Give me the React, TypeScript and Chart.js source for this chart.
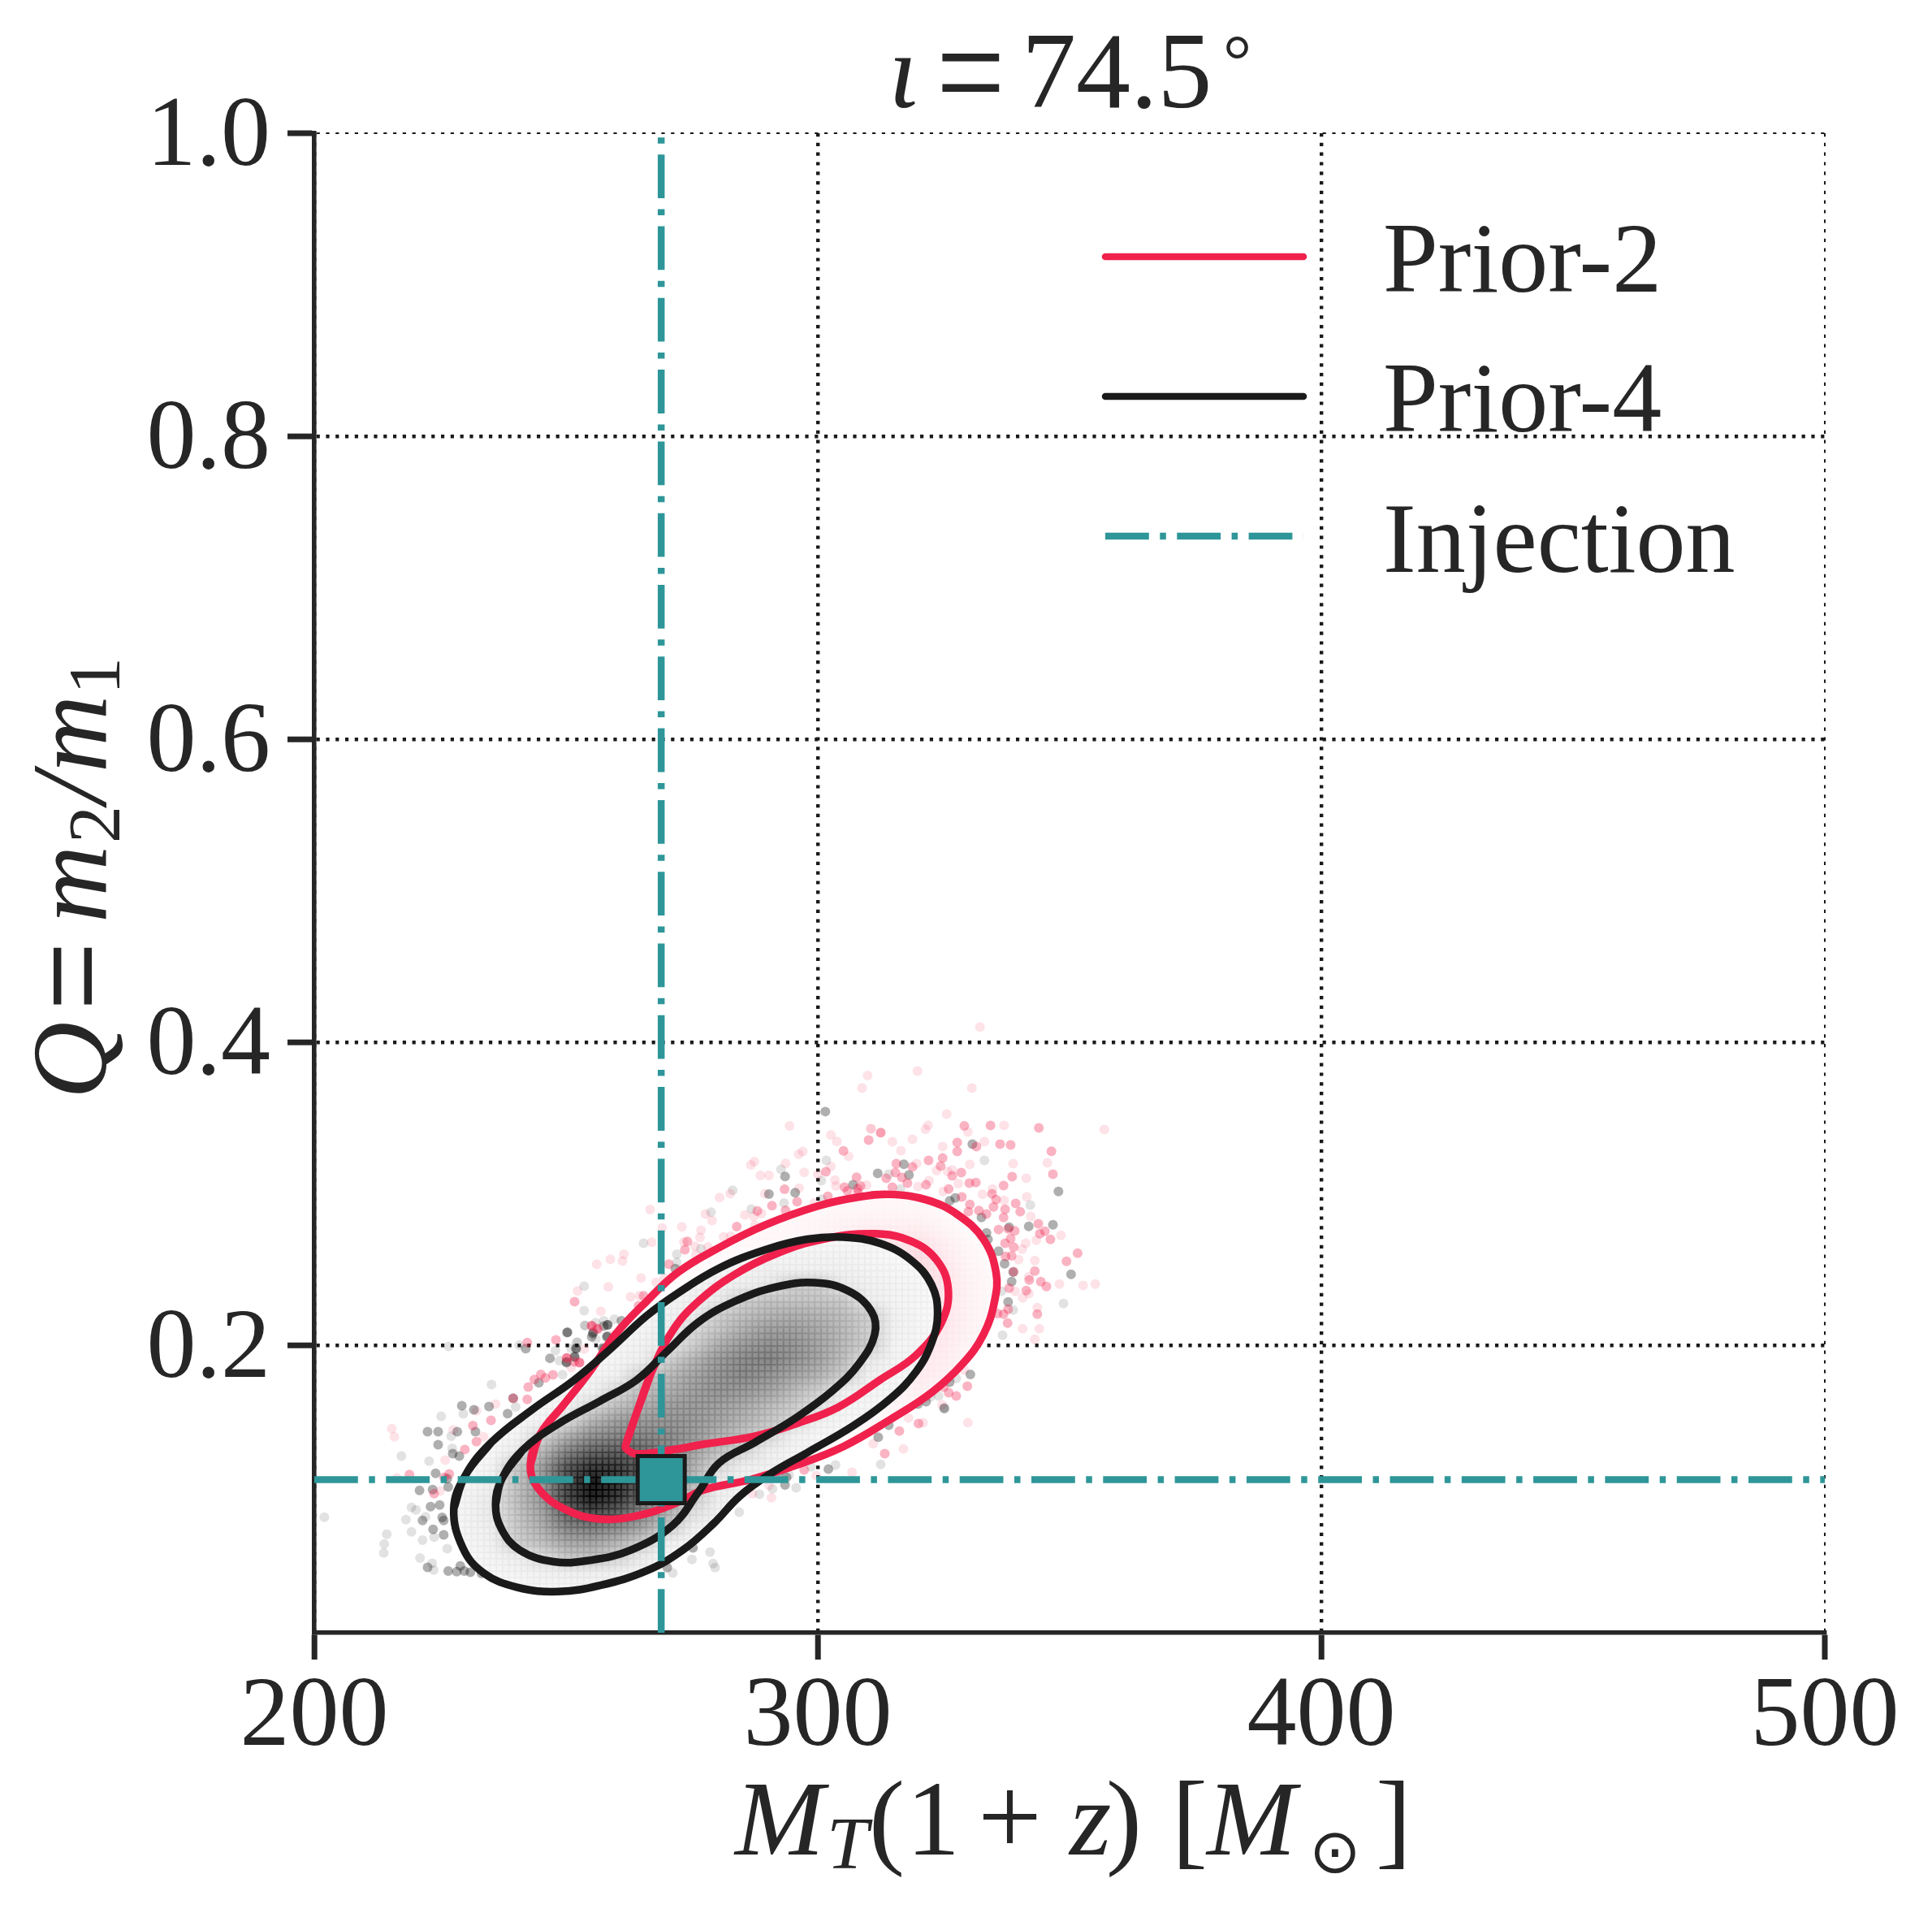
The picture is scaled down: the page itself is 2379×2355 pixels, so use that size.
import { useEffect, useRef } from "react"
import { Chart, registerables } from "chart.js"

Chart.register(...registerables)

const xTicks = [200, 300, 400, 500]
const yTicks = [0.2, 0.4, 0.6, 0.8, 1.0]
const legendLabels = ["Prior-2", "Prior-4", "Injection"]
const injection = { mass: 268.9, q: 0.1111 }

const RED = "#f0214c"
const BLACK = "#1a1a1a"
const TEAL = "#2e9699"
const INK = "#262626"
const SERIF = '"Liberation Serif"'

// contours as [M, Q]
const blackOuter = [
  [227.7, 0.092], [230.0, 0.1139], [235.2, 0.1358], [243.4, 0.1576], [251.6, 0.1768], [258.8, 0.1973],
  [266.0, 0.2192], [272.2, 0.2342], [280.4, 0.2507], [289.7, 0.263], [297.9, 0.2698], [305.1, 0.2712],
  [312.3, 0.2671], [318.5, 0.2561], [322.6, 0.2397], [323.8, 0.2206], [322.6, 0.2014], [319.5, 0.1823],
  [314.4, 0.1645], [307.1, 0.1467], [297.9, 0.1289], [290.7, 0.1152], [284.5, 0.1002], [279.4, 0.0824],
  [273.2, 0.0646], [266.0, 0.0509], [256.8, 0.0413], [248.5, 0.0372], [240.3, 0.04], [233.6, 0.0495],
  [229.5, 0.066],
]
const blackInner = [
  [236.0, 0.0947], [237.2, 0.1111], [241.3, 0.1303], [248.5, 0.148], [256.8, 0.1631], [264.0, 0.1768],
  [270.1, 0.1959], [276.3, 0.2151], [283.5, 0.2288], [291.7, 0.2383], [299.4, 0.2411], [306.1, 0.2356],
  [310.7, 0.2219], [311.3, 0.2069], [308.2, 0.1877], [303.0, 0.17], [295.8, 0.1522], [287.6, 0.1358],
  [280.4, 0.1221], [276.3, 0.1029], [271.2, 0.081], [262.9, 0.0646], [254.7, 0.0578], [247.5, 0.0569],
  [240.8, 0.0646], [237.2, 0.0783],
]
const redOuter = [
  [242.9, 0.1207], [244.9, 0.1412], [249.5, 0.1604], [254.7, 0.1823], [259.8, 0.2069], [266.0, 0.2288],
  [272.2, 0.2479], [280.4, 0.2643], [289.7, 0.2794], [300.0, 0.2917], [308.2, 0.2977], [314.4, 0.2994],
  [321.6, 0.2958], [327.7, 0.2862], [332.9, 0.2698], [335.4, 0.2479], [335.1, 0.2288], [332.9, 0.2069],
  [328.8, 0.1877], [322.6, 0.1686], [314.4, 0.1508], [305.1, 0.133], [295.8, 0.1207], [286.6, 0.1111],
  [277.3, 0.1043], [272.2, 0.0961], [265.0, 0.0879], [256.7, 0.0851], [249.5, 0.092], [244.4, 0.1056],
]
const redInner = [
  [261.9, 0.1344], [264.0, 0.1549], [267.0, 0.1823], [271.2, 0.2096], [276.3, 0.2288], [283.5, 0.2465],
  [291.7, 0.2602], [301.0, 0.2698], [311.3, 0.2734], [318.5, 0.2685], [323.6, 0.2561], [325.9, 0.237],
  [324.6, 0.2151], [319.5, 0.1932], [312.3, 0.1768], [304.1, 0.159], [295.8, 0.1481], [287.6, 0.1399],
  [277.3, 0.1344], [271.1, 0.1308], [264.0, 0.1281], [261.9, 0.1316],
]

// scattered samples outside the contours
const greyPale = [
  [226.7, 0.1991], [240.7, 0.1998], [202.0, 0.0863], [214.4, 0.075], [213.9, 0.0686], [213.8, 0.0627], [221.0, 0.0594],
  [223.4, 0.0558], [223.7, 0.0514], [217.3, 0.1266], [225.2, 0.1529], [229.6, 0.1545], [222.8, 0.1233], [227.4, 0.1317],
  [227.2, 0.1398], [219.3, 0.0927], [220.2, 0.0911], [219.3, 0.0766], [221.5, 0.0712], [223.8, 0.0732], [226.4, 0.0655],
  [218.2, 0.0847], [222.1, 0.0865], [235.2, 0.1738], [249.3, 0.1804], [248.7, 0.1896], [247.9, 0.1962], [252.3, 0.2017],
  [253.7, 0.2128], [257.5, 0.2159], [255.9, 0.2039], [240.0, 0.1591], [301.7, 0.3219], [292.7, 0.316], [293.3, 0.2937],
  [286.8, 0.2897], [283.1, 0.3021], [278.8, 0.2876], [276.8, 0.2635], [272.0, 0.2599], [272.0, 0.2545], [265.4, 0.2672],
  [253.6, 0.2388], [253.6, 0.2227], [253.8, 0.2129], [255.9, 0.2147], [259.6, 0.217], [252.1, 0.2018], [251.0, 0.1977],
  [300.7, 0.3085], [333.1, 0.3218], [314.1, 0.3127], [316.4, 0.303], [300.8, 0.2962], [342.2, 0.2923], [348.8, 0.2273],
  [338.8, 0.223], [336.7, 0.2064], [336.5, 0.2354], [284.4, 0.0897], [278.6, 0.0632], [275.0, 0.0584], [279.2, 0.0557],
  [279.6, 0.053], [271.2, 0.0494], [312.5, 0.1212], [303.5, 0.1207], [298.7, 0.1196], [295.7, 0.1057], [291.0, 0.1051],
  [288.4, 0.1014], [324.0, 0.1663], [322.4, 0.1658], [327.5, 0.178], [325.2, 0.1577], [294.3, 0.1142],
]
const greyDark = [
  [242.0, 0.1976], [250.2, 0.2082], [246.8, 0.1912], [250.1, 0.1883], [251.7, 0.1923], [252.0, 0.1976], [244.6, 0.1751],
  [239.5, 0.1649], [234.7, 0.1593], [231.7, 0.1572], [229.3, 0.1599], [238.4, 0.1547], [222.5, 0.1427], [224.6, 0.1427],
  [228.4, 0.1427], [232.0, 0.1427], [224.6, 0.1341], [227.5, 0.1283], [228.8, 0.1266], [224.1, 0.1153], [223.5, 0.1045],
  [220.9, 0.104], [223.1, 0.0933], [224.9, 0.0943], [225.4, 0.0861], [225.7, 0.0841], [221.5, 0.0841], [223.6, 0.0782],
  [225.7, 0.0746], [222.5, 0.0532], [226.6, 0.0508], [228.3, 0.0503], [229.8, 0.0507], [231.0, 0.0499], [229.0, 0.0541],
  [255.3, 0.2075], [258.2, 0.2057], [258.2, 0.2132], [261.0, 0.2159], [257.5, 0.1976], [226.4, 0.1117], [226.6, 0.1063],
  [233.2, 0.0491], [311.9, 0.3133], [293.5, 0.3112], [295.5, 0.3005], [307.0, 0.3058], [290.3, 0.2996], [271.7, 0.2504],
  [258.3, 0.2132], [257.5, 0.2125], [255.4, 0.2084], [255.1, 0.2054], [258.1, 0.2054], [250.3, 0.2084], [252.0, 0.1977],
  [257.2, 0.198], [251.7, 0.1919], [250.1, 0.1888], [301.5, 0.3541], [330.7, 0.3326], [317.1, 0.3193], [318.1, 0.3122],
  [347.8, 0.3014], [327.3, 0.2971], [326.2, 0.2952], [332.5, 0.2842], [341.9, 0.2783], [346.7, 0.2794], [333.5, 0.274],
  [333.8, 0.2697], [335.9, 0.2619], [337.1, 0.2536], [338.8, 0.2481], [338.5, 0.2418], [350.3, 0.2467], [337.8, 0.2284],
  [338.0, 0.2778], [302.1, 0.118], [312.0, 0.1391], [314.1, 0.147], [293.5, 0.1076], [293.8, 0.1126], [292.4, 0.1162],
  [321.5, 0.1626], [319.9, 0.161], [326.2, 0.1755], [330.3, 0.1805], [325.1, 0.1583], [270.1, 0.053], [275.2, 0.0661],
]
const pinkPale = [
  [215.4, 0.1448], [215.9, 0.1394], [226.0, 0.1239], [227.6, 0.1439], [236.0, 0.1609], [232.2, 0.1565], [233.6, 0.1394],
  [216.4, 0.1122], [253.6, 0.1973], [251.0, 0.1851], [259.4, 0.2066], [225.0, 0.1036], [294.4, 0.3446], [302.6, 0.3386],
  [303.8, 0.3343], [310.6, 0.3428], [312.5, 0.3403], [306.1, 0.3246], [296.2, 0.3259], [297.0, 0.3278], [286.7, 0.3189],
  [287.4, 0.321], [293.6, 0.3198], [288.6, 0.3119], [290.3, 0.3119], [297.3, 0.3139], [302.6, 0.3178], [300.0, 0.3126],
  [303.4, 0.3089], [303.6, 0.3049], [296.3, 0.3035], [289.5, 0.2999], [299.3, 0.2937], [280.5, 0.2973], [282.6, 0.2999],
  [266.7, 0.2894], [277.7, 0.2865], [279.0, 0.2822], [273.0, 0.278], [276.8, 0.2758], [269.1, 0.2772], [267.0, 0.2678],
  [273.4, 0.2679], [275.6, 0.2651], [276.6, 0.271], [278.2, 0.2647], [275.8, 0.2597], [281.3, 0.2713], [282.7, 0.2719],
  [285.5, 0.2858], [287.3, 0.2849], [288.8, 0.2867], [287.5, 0.279], [256.1, 0.2533], [258.8, 0.2565], [261.2, 0.2554],
  [261.5, 0.2599], [264.9, 0.2442], [269.5, 0.2442], [267.9, 0.2413], [258.4, 0.2383], [252.3, 0.2356], [262.8, 0.2318],
  [256.9, 0.2222], [264.6, 0.2325], [332.2, 0.4099], [319.8, 0.3809], [309.9, 0.3779], [308.8, 0.3696], [330.6, 0.3696],
  [325.6, 0.3524], [321.9, 0.3451], [321.4, 0.3424], [310.5, 0.3428], [329.8, 0.3406], [337.0, 0.3449], [314.8, 0.3342],
  [318.8, 0.3358], [333.1, 0.3342], [324.8, 0.331], [316.5, 0.3283], [356.9, 0.3422], [338.8, 0.3197], [330.2, 0.3192],
  [319.6, 0.3197], [345.6, 0.3202], [323.6, 0.3152], [325.8, 0.3145], [326.7, 0.3156], [341.4, 0.31], [309.7, 0.3055],
  [332.7, 0.2995], [324.9, 0.3014], [341.5, 0.2977], [334.7, 0.303], [337.0, 0.2955], [327.9, 0.3066], [322.1, 0.3084],
  [319.9, 0.3045], [342.3, 0.2848], [341.3, 0.2671], [343.4, 0.2692], [340.6, 0.2633], [348.3, 0.2724], [339.9, 0.2563],
  [343.1, 0.2558], [352.7, 0.2393], [355.1, 0.2402], [348.0, 0.2402], [341.9, 0.245], [340.7, 0.2311], [343.6, 0.2246],
  [340.7, 0.2107], [344.0, 0.2107], [339.2, 0.2354], [341.9, 0.2339], [343.1, 0.2037], [306.8, 0.1159], [299.7, 0.1137],
  [290.8, 0.0992], [287.0, 0.1019], [290.3, 0.1073], [311.0, 0.1348], [317.0, 0.1314], [318.0, 0.1518], [320.9, 0.1486],
  [324.7, 0.1604], [329.8, 0.1488], [329.1, 0.1833],
]
const pinkDark = [
  [248.0, 0.2033], [242.3, 0.2016], [250.2, 0.1914], [252.6, 0.1883], [247.4, 0.1803], [245.9, 0.1783], [245.0, 0.1806],
  [243.7, 0.1772], [242.5, 0.1722], [242.3, 0.1641], [239.5, 0.1647], [235.1, 0.1502], [231.5, 0.1468], [232.2, 0.1362],
  [229.9, 0.131], [218.9, 0.1144], [226.8, 0.1149], [225.8, 0.1126], [223.8, 0.1019], [255.1, 0.2128], [256.3, 0.2105],
  [310.1, 0.3353], [305.1, 0.3282], [301.6, 0.3144], [307.7, 0.3107], [293.4, 0.3028], [295.9, 0.2946], [302.0, 0.2981],
  [290.9, 0.2919], [305.3, 0.3042], [305.9, 0.3017], [308.5, 0.3049], [307.9, 0.3032], [308.0, 0.3005], [288.0, 0.2885],
  [293.6, 0.2889], [283.9, 0.2781], [273.6, 0.2629], [274.1, 0.2683], [270.4, 0.2533], [265.4, 0.2324], [264.4, 0.2259],
  [251.7, 0.2286], [255.1, 0.2125], [256.2, 0.2109], [250.1, 0.1914], [251.6, 0.1888], [252.7, 0.1884], [312.5, 0.3401],
  [329.1, 0.3446], [334.3, 0.3449], [336.2, 0.3326], [338.3, 0.332], [343.9, 0.3433], [327.7, 0.3336], [327.7, 0.3277],
  [331.5, 0.331], [346.4, 0.3279], [322.0, 0.3218], [324.8, 0.3234], [324.4, 0.3181], [315.6, 0.3197], [318.8, 0.3175],
  [328.5, 0.3138], [326.7, 0.3116], [315.4, 0.3138], [313.6, 0.31], [316.7, 0.3106], [346.7, 0.3127], [338.6, 0.3111],
  [330.1, 0.3068], [331.4, 0.3073], [317.8, 0.3068], [321.5, 0.3057], [314.8, 0.3041], [336.9, 0.3052], [334.6, 0.2998],
  [335.4, 0.296], [328.6, 0.2977], [326.0, 0.303], [339.3, 0.2934], [340.2, 0.288], [334.9, 0.2912], [337.2, 0.2896],
  [330.2, 0.2928], [329.9, 0.288], [332.0, 0.2887], [333.5, 0.2864], [336.9, 0.2842], [343.8, 0.28], [345.1, 0.2751],
  [344.1, 0.2735], [346.2, 0.2697], [335.9, 0.2762], [337.8, 0.2767], [339.1, 0.2753], [338.3, 0.2703], [337.2, 0.2671],
  [338.9, 0.2646], [337.3, 0.2585], [338.5, 0.2588], [351.6, 0.2606], [349.4, 0.2552], [343.1, 0.2488], [344.3, 0.2418],
  [345.4, 0.2386], [342.0, 0.2429], [341.4, 0.2359], [338.0, 0.2375], [338.9, 0.2484], [337.7, 0.2144], [343.6, 0.2203],
  [335.7, 0.2207], [336.9, 0.2203], [337.8, 0.2236], [297.3, 0.1175], [313.3, 0.1282], [316.2, 0.1432], [320.0, 0.1481],
  [329.7, 0.1728], [327.5, 0.1663], [326.0, 0.1685], [325.0, 0.1722],
]

// darkness of the 2D histogram in percent, 0 = nothing painted
const greyCols = [225, 230, 235, 240, 245, 250, 255, 260, 265, 270, 275, 280, 285, 290, 295, 300, 305, 310, 315, 320, 325, 330]
const greyRows = [0.03, 0.04, 0.05, 0.06, 0.07, 0.08, 0.09, 0.1, 0.11, 0.12, 0.13, 0.14, 0.15, 0.16, 0.17, 0.18, 0.19, 0.2, 0.21, 0.22, 0.23, 0.24, 0.25, 0.26, 0.27, 0.28]
const greyShade = [
  [0, 0, 0, 2, 2, 2, 2, 2, 0, 0, 0, 0, 0, 0, 0, 0, 0, 0, 0, 0, 0, 0],
  [0, 0, 2, 2, 3, 3, 3, 3, 2, 0, 0, 0, 0, 0, 0, 0, 0, 0, 0, 0, 0, 0],
  [2, 2, 3, 4, 5, 6, 6, 5, 3, 2, 0, 0, 0, 0, 0, 0, 0, 0, 0, 0, 0, 0],
  [2, 2, 4, 6, 12, 20, 22, 16, 7, 3, 2, 0, 0, 0, 0, 0, 0, 0, 0, 0, 0, 0],
  [2, 3, 5, 18, 24, 33, 34, 28, 18, 6, 3, 2, 0, 0, 0, 0, 0, 0, 0, 0, 0, 0],
  [2, 4, 6, 20, 30, 46, 50, 44, 34, 20, 6, 3, 2, 0, 0, 0, 0, 0, 0, 0, 0, 0],
  [2, 4, 8, 22, 34, 58, 68, 60, 45, 30, 12, 5, 2, 2, 0, 0, 0, 0, 0, 0, 0, 0],
  [2, 4, 7, 24, 38, 68, 85, 75, 55, 38, 20, 6, 3, 2, 0, 0, 0, 0, 0, 0, 0, 0],
  [2, 3, 6, 22, 38, 68, 88, 78, 60, 42, 26, 7, 5, 3, 2, 0, 0, 0, 0, 0, 0, 0],
  [2, 2, 4, 20, 36, 62, 74, 72, 60, 46, 30, 14, 6, 5, 3, 2, 0, 0, 0, 0, 0, 0],
  [0, 2, 3, 7, 26, 46, 58, 60, 56, 46, 34, 24, 15, 6, 4, 3, 2, 0, 0, 0, 0, 0],
  [0, 2, 2, 4, 14, 30, 42, 46, 46, 44, 38, 30, 22, 15, 5, 3, 3, 2, 0, 0, 0, 0],
  [0, 0, 2, 3, 4, 12, 28, 36, 38, 40, 38, 34, 28, 22, 14, 5, 3, 3, 2, 0, 0, 0],
  [0, 0, 0, 2, 3, 4, 14, 24, 30, 36, 38, 36, 32, 26, 20, 10, 4, 3, 2, 2, 0, 0],
  [0, 0, 0, 0, 2, 3, 5, 14, 24, 30, 36, 40, 38, 34, 26, 18, 5, 4, 3, 2, 2, 0],
  [0, 0, 0, 0, 2, 2, 4, 5, 18, 26, 34, 40, 44, 40, 34, 28, 18, 5, 3, 2, 2, 0],
  [0, 0, 0, 0, 0, 2, 2, 4, 6, 18, 28, 38, 44, 46, 40, 34, 24, 8, 4, 3, 2, 0],
  [0, 0, 0, 0, 0, 0, 2, 3, 5, 7, 18, 30, 38, 42, 40, 34, 26, 18, 4, 3, 2, 0],
  [0, 0, 0, 0, 0, 0, 2, 2, 4, 6, 14, 22, 30, 36, 36, 32, 26, 18, 5, 3, 2, 0],
  [0, 0, 0, 0, 0, 0, 0, 2, 3, 5, 6, 18, 24, 28, 30, 28, 24, 18, 5, 3, 2, 0],
  [0, 0, 0, 0, 0, 0, 0, 0, 2, 3, 5, 7, 18, 22, 22, 22, 20, 6, 4, 3, 2, 0],
  [0, 0, 0, 0, 0, 0, 0, 0, 0, 2, 4, 5, 6, 8, 18, 18, 7, 5, 4, 3, 2, 0],
  [0, 0, 0, 0, 0, 0, 0, 0, 0, 2, 2, 3, 4, 5, 5, 5, 5, 4, 3, 2, 2, 0],
  [0, 0, 0, 0, 0, 0, 0, 0, 0, 0, 2, 2, 2, 3, 4, 4, 4, 3, 2, 2, 0, 0],
  [0, 0, 0, 0, 0, 0, 0, 0, 0, 0, 0, 0, 2, 2, 2, 2, 2, 2, 2, 0, 0, 0],
  [0, 0, 0, 0, 0, 0, 0, 0, 0, 0, 0, 0, 0, 0, 0, 0, 0, 0, 0, 0, 0, 0],
]

// faint pink tint of the other histogram, showing only past the grey one
const pinkCols = [240, 245, 250, 255, 260, 265, 270, 275, 280, 285, 290, 295, 300, 305, 310, 315, 320, 325, 330, 335, 340]
const pinkRows = [0.08, 0.09, 0.1, 0.11, 0.12, 0.13, 0.14, 0.15, 0.16, 0.17, 0.18, 0.19, 0.2, 0.21, 0.22, 0.23, 0.24, 0.25, 0.26, 0.27, 0.28, 0.29, 0.3, 0.31]
const pinkShade = [
  [1, 1, 1, 1, 1, 1, 1, 1, 1, 0, 0, 0, 0, 0, 0, 0, 0, 0, 0, 0, 0],
  [1, 1, 1, 1, 1, 1, 1, 1, 1, 1, 1, 0, 0, 0, 0, 0, 0, 0, 0, 0, 0],
  [1, 1, 1, 1, 1, 1, 1, 1, 1, 1, 1, 1, 0, 0, 0, 0, 0, 0, 0, 0, 0],
  [1, 1, 1, 1, 1, 1, 1, 1, 1, 1, 1, 1, 1, 1, 0, 0, 0, 0, 0, 0, 0],
  [1, 1, 1, 1, 1, 1, 1, 1, 1, 1, 1, 1, 2, 2, 1, 1, 0, 0, 0, 0, 0],
  [1, 1, 1, 1, 1, 1, 1, 1, 1, 1, 1, 2, 2, 2, 2, 2, 1, 0, 0, 0, 0],
  [1, 1, 1, 1, 1, 1, 1, 1, 1, 1, 1, 2, 2, 2, 2, 2, 2, 1, 0, 0, 0],
  [1, 1, 1, 1, 1, 1, 1, 1, 1, 1, 1, 2, 2, 2, 3, 3, 3, 2, 1, 0, 0],
  [0, 1, 1, 1, 1, 1, 1, 1, 1, 1, 1, 2, 2, 2, 2, 4, 4, 3, 1, 0, 0],
  [0, 0, 1, 1, 1, 1, 1, 1, 1, 1, 1, 2, 2, 2, 2, 4, 6, 3, 2, 1, 0],
  [0, 0, 0, 1, 1, 1, 1, 1, 1, 1, 1, 2, 2, 2, 2, 3, 8, 6, 3, 1, 0],
  [0, 0, 0, 1, 1, 1, 1, 1, 1, 1, 1, 2, 2, 2, 2, 3, 9, 7, 3, 1, 0],
  [0, 0, 0, 0, 1, 1, 1, 1, 1, 1, 1, 2, 2, 2, 2, 3, 10, 8, 4, 2, 0],
  [0, 0, 0, 0, 1, 1, 1, 1, 1, 1, 1, 2, 2, 2, 2, 3, 10, 9, 5, 2, 0],
  [0, 0, 0, 0, 0, 1, 1, 1, 1, 1, 1, 2, 2, 2, 2, 3, 12, 10, 5, 2, 0],
  [0, 0, 0, 0, 0, 1, 1, 1, 1, 1, 1, 2, 2, 2, 2, 4, 12, 10, 5, 2, 0],
  [0, 0, 0, 0, 0, 0, 1, 1, 2, 2, 2, 2, 2, 2, 2, 5, 14, 10, 5, 2, 0],
  [0, 0, 0, 0, 0, 0, 1, 2, 2, 2, 2, 2, 2, 2, 3, 8, 14, 10, 4, 2, 0],
  [0, 0, 0, 0, 0, 0, 0, 1, 2, 2, 2, 2, 2, 3, 5, 10, 14, 8, 3, 1, 0],
  [0, 0, 0, 0, 0, 0, 0, 0, 1, 2, 3, 3, 4, 7, 10, 10, 10, 6, 2, 1, 0],
  [0, 0, 0, 0, 0, 0, 0, 0, 0, 1, 2, 3, 4, 5, 6, 6, 6, 3, 1, 0, 0],
  [0, 0, 0, 0, 0, 0, 0, 0, 0, 0, 1, 2, 2, 3, 3, 3, 3, 2, 1, 0, 0],
  [0, 0, 0, 0, 0, 0, 0, 0, 0, 0, 0, 1, 1, 1, 2, 2, 2, 1, 0, 0, 0],
  [0, 0, 0, 0, 0, 0, 0, 0, 0, 0, 0, 0, 0, 0, 0, 0, 0, 0, 0, 0, 0],
]

const toPoints = (pairs: number[][]) => pairs.map(([x, y]) => ({ x, y }))
// run over the first points again so the smoothing closes without a kink
const closed = (pairs: number[][]) => toPoints([...pairs, pairs[0], pairs[1], pairs[2]])

function shadeImage(rows: number[], cols: number[], shade: number[][], tint: number[], gain: number, lift: number) {
  const small = document.createElement("canvas")
  small.width = cols.length
  small.height = rows.length
  const sctx = small.getContext("2d")!
  const img = sctx.createImageData(cols.length, rows.length)
  shade.forEach((row, r) => {
    row.forEach((v, c) => {
      const i = ((rows.length - 1 - r) * cols.length + c) * 4
      const k = Math.min(1, (v * gain + lift) / 100)
      img.data[i] = 255 + (tint[0] - 255) * k
      img.data[i + 1] = 255 + (tint[1] - 255) * k
      img.data[i + 2] = 255 + (tint[2] - 255) * k
      img.data[i + 3] = v === 0 ? 0 : 255
    })
  })
  sctx.putImageData(img, 0, 0)
  return small
}

function paintHistogram(
  chart: any,
  cols: number[],
  rows: number[],
  shade: number[][],
  tint: number[],
  outline: number[][],
  gain: number,
  lift: number,
) {
  const { x, y } = chart.scales
  const ctx = chart.ctx as CanvasRenderingContext2D
  const dx = x.getPixelForValue(cols[1]) - x.getPixelForValue(cols[0])
  const dy = y.getPixelForValue(rows[0]) - y.getPixelForValue(rows[1])
  const left = x.getPixelForValue(cols[0]) - dx / 2
  const top = y.getPixelForValue(rows[rows.length - 1]) - dy / 2

  // seams between the histogram bins: the same picture a little darker, seen through thin lines
  const seams = document.createElement("canvas")
  seams.width = chart.width
  seams.height = chart.height
  const mctx = seams.getContext("2d")!
  mctx.strokeStyle = "#000"
  mctx.lineWidth = 2
  mctx.beginPath()
  for (let m = cols[0]; m <= cols[cols.length - 1]; m += 1.24) {
    const px = x.getPixelForValue(m)
    mctx.moveTo(px, top)
    mctx.lineTo(px, top + dy * rows.length)
  }
  for (let q = rows[0]; q <= rows[rows.length - 1]; q += 0.00413) {
    const py = y.getPixelForValue(q)
    mctx.moveTo(left, py)
    mctx.lineTo(left + dx * cols.length, py)
  }
  mctx.stroke()
  mctx.globalCompositeOperation = "source-in"
  mctx.drawImage(shadeImage(rows, cols, shade, tint, gain, lift), left, top, dx * cols.length, dy * rows.length)

  // only the inside of the outer contour gets painted
  ctx.save()
  ctx.beginPath()
  outline.forEach(([m, q], i) => {
    if (i === 0) ctx.moveTo(x.getPixelForValue(m), y.getPixelForValue(q))
    else ctx.lineTo(x.getPixelForValue(m), y.getPixelForValue(q))
  })
  ctx.closePath()
  ctx.clip()
  ctx.fillStyle = "#fff"
  ctx.fillRect(0, 0, chart.width, chart.height)
  ctx.imageSmoothingEnabled = true
  ctx.drawImage(shadeImage(rows, cols, shade, tint, 1, 0), left, top, dx * cols.length, dy * rows.length)
  ctx.drawImage(seams, 0, 0)
  ctx.restore()
}

const histogramPlugin = {
  id: "histograms",
  beforeDatasetsDraw(chart: any) {
    paintHistogram(chart, pinkCols, pinkRows, pinkShade, [240, 33, 76], redOuter, 1.2, 0.6)
    paintHistogram(chart, greyCols, greyRows, greyShade, [0, 0, 0], blackOuter, 1.2, 2.5)
  },
}

const put = (ctx: CanvasRenderingContext2D, text: string, x: number, y: number, font: string) => {
  ctx.font = font
  ctx.fillText(text, x, y)
}

// the math "=" is wider apart than the text one
const putEquals = (ctx: CanvasRenderingContext2D, x: number, y: number) => {
  ctx.save()
  ctx.translate(x, y)
  ctx.scale(1.07, 1.35)
  put(ctx, "=", 0, 0, `140px ${SERIF}`)
  ctx.restore()
}

const textPlugin = {
  id: "texts",
  afterDraw(chart: any) {
    const ctx = chart.ctx as CanvasRenderingContext2D
    const reg = (s: number) => `${s}px ${SERIF}`
    const ita = (s: number) => `italic ${s}px ${SERIF}`
    ctx.save()
    ctx.fillStyle = INK
    ctx.textAlign = "left"
    ctx.textBaseline = "alphabetic"

    // title
    put(ctx, "ι", 1094, 132, ita(132))
    putEquals(ctx, 1153, 152)
    put(ctx, "74.5", 1258, 132, reg(134))
    put(ctx, "°", 1506, 104, reg(88))

    // x label
    put(ctx, "M", 905, 2283, ita(132))
    put(ctx, "T", 1018, 2300, ita(92))
    put(ctx, "(", 1070, 2283, reg(132))
    put(ctx, "1", 1116, 2283, reg(132))
    put(ctx, "+", 1204, 2283, reg(140))
    put(ctx, "z", 1317, 2283, ita(132))
    put(ctx, ")", 1362, 2283, reg(132))
    put(ctx, "[", 1443, 2283, reg(132))
    put(ctx, "M", 1486, 2283, ita(132))
    put(ctx, "⊙", 1612, 2305, '76px "DejaVu Sans"')
    put(ctx, "]", 1694, 2283, reg(132))

    // y label, rotated, distance measured up the page
    ctx.save()
    ctx.translate(130, 1353)
    ctx.rotate(-Math.PI / 2)
    put(ctx, "Q", 0, 0, ita(132))
    putEquals(ctx, 109, 22)
    put(ctx, "m", 217, 0, ita(132))
    put(ctx, "2", 315, 17, reg(92))
    put(ctx, "/", 364, 0, ita(132))
    put(ctx, "m", 402, 0, ita(132))
    put(ctx, "1", 498, 17, reg(92))
    ctx.restore()

    // legend
    const lineColors = [RED, BLACK, TEAL]
    const lineY = [316, 488, 660]
    const textY = [359, 531, 704]
    legendLabels.forEach((label, i) => {
      ctx.beginPath()
      ctx.strokeStyle = lineColors[i]
      ctx.lineWidth = 8.5
      ctx.lineCap = i === 2 ? "butt" : "round"
      ctx.setLineDash(i === 2 ? [53.8, 13.5, 7.5, 13.5] : [])
      ctx.moveTo(1361, lineY[i])
      ctx.lineTo(1605, lineY[i])
      ctx.stroke()
      ctx.setLineDash([])
      put(ctx, label, 1703, textY[i], reg(122))
    })
    ctx.restore()
  },
}

export default function App() {
  const chartRef = useRef<HTMLCanvasElement>(null)

  useEffect(() => {
    if (!chartRef.current) return
    const contour = (data: number[][], color: string) => ({
      data: closed(data),
      showLine: true,
      borderColor: color,
      borderWidth: 9.5,
      tension: 0.4,
      pointRadius: 0,
      fill: false,
    })
    const samples = (data: number[][], color: string) => ({
      data: toPoints(data),
      backgroundColor: color,
      borderWidth: 0,
      pointRadius: 6,
      pointBorderWidth: 0,
    })
    const guide = (data: number[][]) => ({
      data: toPoints(data),
      showLine: true,
      borderColor: TEAL,
      borderWidth: 8.5,
      borderDash: [53.8, 13.5, 7.5, 13.5],
      borderCapStyle: "butt",
      pointRadius: 0,
    })

    const chart = new Chart(chartRef.current, {
      type: "scatter",
      data: {
        // first listed is drawn on top
        datasets: [
          {
            data: [{ x: injection.mass, y: injection.q }],
            pointStyle: "rect",
            pointRadius: 41,
            backgroundColor: TEAL,
            borderColor: BLACK,
            pointBorderWidth: 5,
            borderWidth: 5,
          },
          guide([[injection.mass, 0.01], [injection.mass, 1.0]]),
          guide([[200, injection.q], [500, injection.q]]),
          contour(blackInner, BLACK),
          contour(blackOuter, BLACK),
          contour(redInner, RED),
          contour(redOuter, RED),
          samples(pinkDark, "rgba(240,33,76,0.34)"),
          samples(greyDark, "rgba(20,20,20,0.34)"),
          samples(pinkPale, "rgba(240,33,76,0.13)"),
          samples(greyPale, "rgba(20,20,20,0.12)"),
        ] as any,
      },
      plugins: [histogramPlugin, textPlugin],
      options: {
        responsive: false,
        devicePixelRatio: 1,
        animation: false,
        layout: { padding: { left: 0, top: 164, right: 132, bottom: 0 } },
        plugins: { legend: { display: false }, tooltip: { enabled: false }, title: { display: false } },
        scales: {
          x: {
            type: "linear",
            min: 200,
            max: 500,
            afterBuildTicks: (s: any) => {
              s.ticks = xTicks.map((value) => ({ value }))
            },
            afterFit: (s: any) => {
              s.height = 345
            },
            ticks: {
              autoSkip: false,
              maxRotation: 0,
              padding: 12,
              color: INK,
              font: { family: "Liberation Serif", size: 122, lineHeight: 1 },
              callback: (v: any) => String(v),
            },
            grid: {
              color: BLACK,
              lineWidth: (c: any) => (c.tick?.value === 500 ? 2 : 4.4),
              tickLength: 33,
              tickWidth: 7,
              tickColor: INK,
              tickBorderDash: [],
            },
            border: { color: INK, width: 5.6, dash: [4.2, 7.6] },
          },
          y: {
            type: "linear",
            min: 0.01,
            max: 1.0,
            afterBuildTicks: (s: any) => {
              s.ticks = yTicks.map((value) => ({ value }))
            },
            afterFit: (s: any) => {
              s.width = 387
            },
            ticks: {
              autoSkip: false,
              padding: 21,
              labelOffset: 7,
              color: INK,
              font: { family: "Liberation Serif", size: 122, lineHeight: 1 },
              callback: (v: any) => Number(v).toFixed(1),
            },
            grid: {
              color: BLACK,
              lineWidth: (c: any) => (c.tick?.value === 1 ? 2 : 4.4),
              tickLength: 33,
              tickWidth: 7,
              tickColor: INK,
              tickBorderDash: [],
            },
            border: { color: INK, width: 5.6, dash: [4.2, 7.6] },
          },
        },
      } as any,
    })

    return () => chart.destroy()
  }, [])

  return (
    <div style={{ position: "absolute", left: 0, top: 0, width: 2379, height: 2355, background: "#fff" }}>
      <canvas ref={chartRef} width={2379} height={2355} style={{ display: "block" }} />
    </div>
  )
}
